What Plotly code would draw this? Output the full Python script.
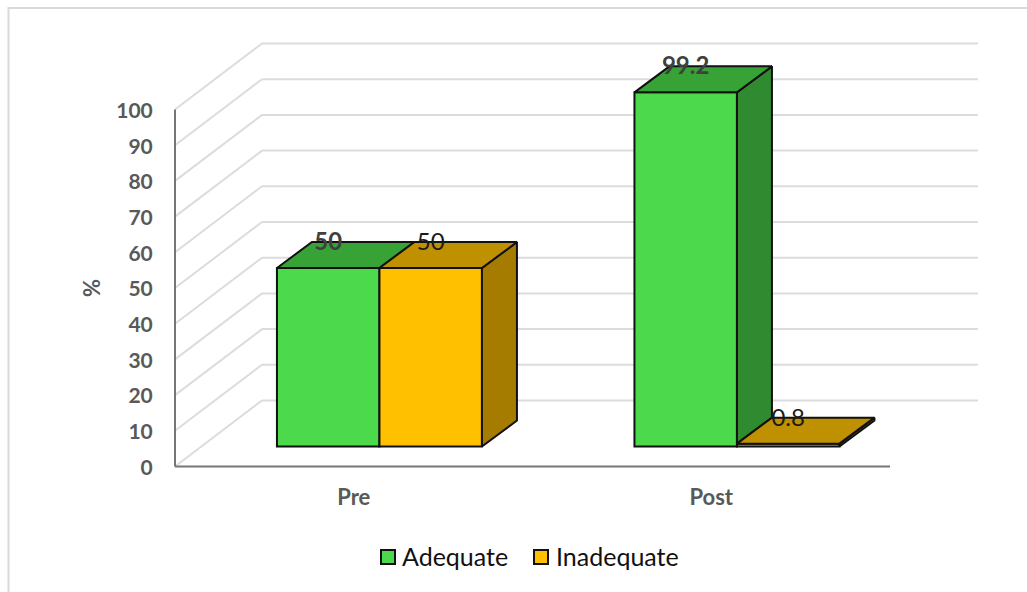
import plotly.graph_objects as go

# Chart data
categories = ["Pre", "Post"]
adequate = [50, 99.2]
inadequate = [50, 0.8]
y_ticks = list(range(0, 101, 10))
series_names = ["Adequate", "Inadequate"]

# Pixel frame of the plot area and the scale of the value axis
W, H = 1027, 592
LEFT, RIGHT = 173, 982
TOP, BOTTOM = 40, 470
AXIS_X0_PX, AXIS_Y0_PX = 175, 466.5
PX_PER_CAT = 357.5
PX_PER_VAL = 3.57


def cat_units(px):
    return px / PX_PER_CAT


def val_units(px):
    return px / PX_PER_VAL


x_range = [-0.5 - cat_units(AXIS_X0_PX - LEFT), -0.5 + cat_units(RIGHT - AXIS_X0_PX)]
y_range = [-val_units(BOTTOM - AXIS_Y0_PX), val_units(AXIS_Y0_PX - TOP)]

# Oblique projection: floor depth, bar depth, and where the bars stand on the floor
WALL_DX, WALL_DY = cat_units(87), val_units(66)
BAR_DX, BAR_DY = cat_units(35), val_units(26)
LIFT = val_units(20)
GROUP_SHIFT = cat_units(25.7)
BAR_W = cat_units(102.5)

COLORS = {
    "Adequate": {"front": "#4CD94C", "top": "#37A337", "side": "#308A30"},
    "Inadequate": {"front": "#FFC000", "top": "#BF9000", "side": "#A67C00"},
}
EDGE = dict(color="#111111", width=2)
GRID = dict(color="#DCDCDC", width=2)
AXIS = dict(color="#767676", width=2)
TICK_FONT_Y = dict(family="Lato", size=21, color="#595959", weight="bold")
TICK_FONT_X = dict(family="Lato", size=22, color="#595959", weight="bold")

fig = go.Figure()

# Front faces are the actual bars
series = [("Adequate", adequate, -0.5), ("Inadequate", inadequate, 0.5)]
for name, values, side in series:
    fig.add_trace(go.Bar(
        name=name,
        x=[i + GROUP_SHIFT + side * BAR_W for i in range(len(categories))],
        y=values,
        base=LIFT,
        width=BAR_W,
        marker=dict(color=COLORS[name]["front"], line=EDGE),
        showlegend=False,
        hoverinfo="skip",
    ))


def face(xs, ys, color):
    fig.add_trace(go.Scatter(
        x=xs + xs[:1], y=ys + ys[:1], mode="lines", fill="toself",
        fillcolor=color, line=EDGE, showlegend=False, hoverinfo="skip",
    ))


# Side and top faces of each bar. A side is only drawn above the front of its
# right-hand neighbour, which would otherwise hide it.
for s, (name, values, side) in enumerate(series):
    for i, v in enumerate(values):
        x0 = i + GROUP_SHIFT + side * BAR_W - BAR_W / 2
        x1 = x0 + BAR_W
        top = LIFT + v
        floor = LIFT
        if s + 1 < len(series):
            floor = LIFT + series[s + 1][1][i]
        if floor < top:
            face([x1, x1 + BAR_DX, x1 + BAR_DX, x1],
                 [floor, floor + BAR_DY, top + BAR_DY, top], COLORS[name]["side"])
        face([x0, x1, x1 + BAR_DX, x0 + BAR_DX],
             [top, top, top + BAR_DY, top + BAR_DY], COLORS[name]["top"])

# Value labels sit over the back edge of each top face
label_sets = [
    (adequate, -0.5, dict(family="Lato", size=24, color="#404040", weight="bold")),
    (inadequate, 0.5, dict(family="Lato", size=24, color="#1A1A1A")),
]
for values, side, font in label_sets:
    fig.add_trace(go.Scatter(
        x=[i + GROUP_SHIFT + side * BAR_W for i in range(len(values))],
        y=[LIFT + v + BAR_DY - val_units(2) for v in values],
        mode="text",
        text=[f"{v:g}" for v in values],
        textposition="middle center",
        textfont=font,
        cliponaxis=False,
        showlegend=False,
        hoverinfo="skip",
    ))

# Gridlines run up the side wall, then across the back wall
wall_right = x_range[1] - cat_units(4)
shapes = []
for t in y_ticks:
    x_back = -0.5 + WALL_DX
    y_back = t + WALL_DY
    shapes.append(dict(type="line", layer="below", xref="x", yref="y",
                       x0=-0.5, y0=t, x1=x_back, y1=y_back, line=GRID))
    shapes.append(dict(type="line", layer="below", xref="x", yref="y",
                       x0=x_back, y0=y_back, x1=wall_right, y1=y_back, line=GRID))

# Axis lines stop at the front corner of the floor and at the top tick
shapes.append(dict(type="line", layer="below", xref="x", yref="y",
                   x0=-0.5, y0=0, x1=1.5, y1=0, line=AXIS))
shapes.append(dict(type="line", layer="below", xref="x", yref="y",
                   x0=-0.5, y0=0, x1=-0.5, y1=100, line=AXIS))


def px(v):
    return (v - LEFT) / (RIGHT - LEFT)


def py(v):
    return (BOTTOM - v) / (BOTTOM - TOP)


# Outer chart frame, open past the right and bottom page edges
shapes.append(dict(type="rect", layer="below", xref="paper", yref="paper",
                   x0=px(8.5), x1=px(1040), y0=py(610), y1=py(8),
                   line=dict(color="#DADADA", width=2), fillcolor="rgba(0,0,0,0)"))

# Legend: outlined swatch followed by the series name
annotations = [dict(
    text="%", xref="paper", yref="paper", x=px(91), y=py(288),
    xanchor="center", yanchor="middle", textangle=-90, showarrow=False,
    font=dict(family="Lato", size=22, color="#595959", weight="bold"),
)]
legend_swatch_px = [381, 534]
legend_text_px = [402, 556]
LEGEND_Y_PX = 556
for name, sx, tx in zip(series_names, legend_swatch_px, legend_text_px):
    shapes.append(dict(type="rect", xref="paper", yref="paper",
                       x0=px(sx), x1=px(sx + 14),
                       y0=py(LEGEND_Y_PX + 8), y1=py(LEGEND_Y_PX - 6),
                       fillcolor=COLORS[name]["front"], line=dict(color="#111111", width=2)))
    annotations.append(dict(
        text=name, xref="paper", yref="paper", x=px(tx), y=py(LEGEND_Y_PX),
        xanchor="left", yanchor="middle", showarrow=False, borderpad=0, borderwidth=0,
        font=dict(family="Lato", size=25, color="#111111"),
    ))

fig.update_layout(
    width=W, height=H,
    margin=dict(l=LEFT, r=W - RIGHT, t=TOP, b=H - BOTTOM, pad=0, autoexpand=False),
    paper_bgcolor="white", plot_bgcolor="rgba(0,0,0,0)",
    barmode="overlay",
    shapes=shapes,
    annotations=annotations,
    font=dict(family="Lato"),
    showlegend=False,
    xaxis=dict(
        range=x_range, tickmode="array", tickvals=list(range(len(categories))),
        ticktext=categories, showgrid=False, zeroline=False, showline=False,
        ticks="outside", ticklen=8, tickcolor="rgba(0,0,0,0)", tickfont=TICK_FONT_X,
    ),
    yaxis=dict(
        range=y_range, tickmode="array", tickvals=y_ticks, showgrid=False,
        zeroline=False, showline=False,
        ticks="outside", ticklen=15, tickcolor="rgba(0,0,0,0)", tickfont=TICK_FONT_Y,
        ticklabelshift=1,
    ),
)

fig.write_html("out.html", config=dict(displayModeBar=False))
